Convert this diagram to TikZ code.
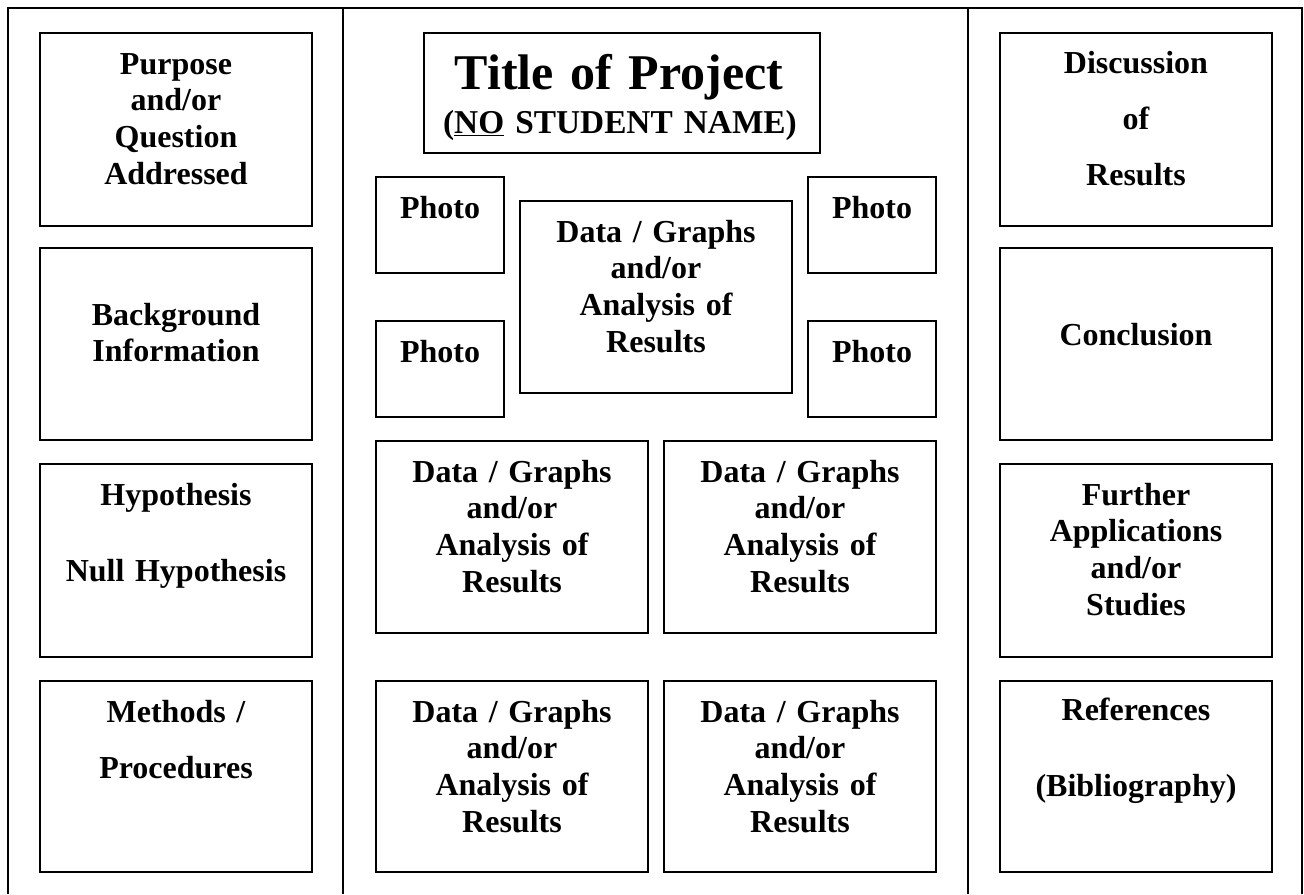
\documentclass[tikz,border=0pt]{standalone}
\usepackage{fontspec}
\setmainfont{Liberation Serif}
\usetikzlibrary{fit}

\tikzset{
        panel/.style={draw, line width=1.5pt, inner sep=0pt},
        txt/.style={anchor=base, align=center, text width=190pt, inner sep=0pt,
                font=\fontsize{24}{27.6}\selectfont\bfseries},
        txt half/.style={txt, font=\fontsize{24}{42}\selectfont\bfseries},
        txt double/.style={txt, font=\fontsize{24}{57}\selectfont\bfseries},
        board/.style={line width=1.5pt}
}

\begin{document}
\begin{tikzpicture}[x=0.75pt,y=-0.75pt]
        \useasboundingbox (0,0) rectangle (1304,894);
        % tri-fold board
        \draw[board] (8,894) -- (8,8) -- (1302,8) -- (1302,894);
        \draw[board] (343,8) -- (343,894);
        \draw[board] (968,8) -- (968,894);

        % left wing
        \node (purpose) [panel, fit={(40,33) (312,226)}] {};
        \node (purpose-t) [txt] at (176,74) {Purpose\\and/or\\Question\\Addressed};
        \node (backgr) [panel, fit={(40,248) (312,440)}] {};
        \node (backgr-t) [txt] at (176,325) {Background\\Information};
        \node (hypo) [panel, fit={(40,464) (312,657)}] {};
        \node (hypo-t) [txt double] at (176,505) {Hypothesis\\Null Hypothesis};
        \node (methods) [panel, fit={(40,681) (312,872)}] {};
        \node (methods-t) [txt half] at (176,722) {Methods /\\Procedures};

        % centre
        \node (title) [panel, fit={(424,33) (820,153)}] {};
        \node (title-t) [txt, text width=280pt, font=\fontsize{37.5}{41.4}\selectfont\bfseries] at (619,89) {Title of Project};
        \node (title-s) [txt, text width=280pt, font=\fontsize{25}{28}\selectfont\bfseries] at (620,133) {(\underline{NO} STUDENT NAME)};
        \node (photo1) [panel, fit={(376,177) (504,273)}] {};
        \node (photo1-t) [txt, text width=90pt] at (440,218) {Photo};
        \node (photo2) [panel, fit={(376,321) (504,417)}] {};
        \node (photo2-t) [txt, text width=90pt] at (440,362) {Photo};
        \node (photo3) [panel, fit={(808,177) (936,273)}] {};
        \node (photo3-t) [txt, text width=90pt] at (872,218) {Photo};
        \node (photo4) [panel, fit={(808,321) (936,417)}] {};
        \node (photo4-t) [txt, text width=90pt] at (872,362) {Photo};
        \node (data0) [panel, fit={(520,201) (792,393)}] {};
        \node (data0-t) [txt] at (656,242) {Data / Graphs\\and/or\\Analysis of\\Results};
        \node (data1) [panel, fit={(376,441) (648,633)}] {};
        \node (data1-t) [txt] at (512,482) {Data / Graphs\\and/or\\Analysis of\\Results};
        \node (data2) [panel, fit={(664,441) (936,633)}] {};
        \node (data2-t) [txt] at (800,482) {Data / Graphs\\and/or\\Analysis of\\Results};
        \node (data3) [panel, fit={(376,681) (648,872)}] {};
        \node (data3-t) [txt] at (512,722) {Data / Graphs\\and/or\\Analysis of\\Results};
        \node (data4) [panel, fit={(664,681) (936,872)}] {};
        \node (data4-t) [txt] at (800,722) {Data / Graphs\\and/or\\Analysis of\\Results};

        % right wing
        \node (discuss) [panel, fit={(1000,33) (1272,226)}] {};
        \node (discuss-t) [txt half] at (1136,73) {Discussion\\of\\Results};
        \node (concl) [panel, fit={(1000,248) (1272,440)}] {};
        \node (concl-t) [txt] at (1136,345) {Conclusion};
        \node (further) [panel, fit={(1000,464) (1272,657)}] {};
        \node (further-t) [txt] at (1136,505) {Further\\Applications\\and/or\\Studies};
        \node (refs) [panel, fit={(1000,681) (1272,872)}] {};
        \node (refs-t) [txt double] at (1136,720) {References\\(Bibliography)};
\end{tikzpicture}
\end{document}
